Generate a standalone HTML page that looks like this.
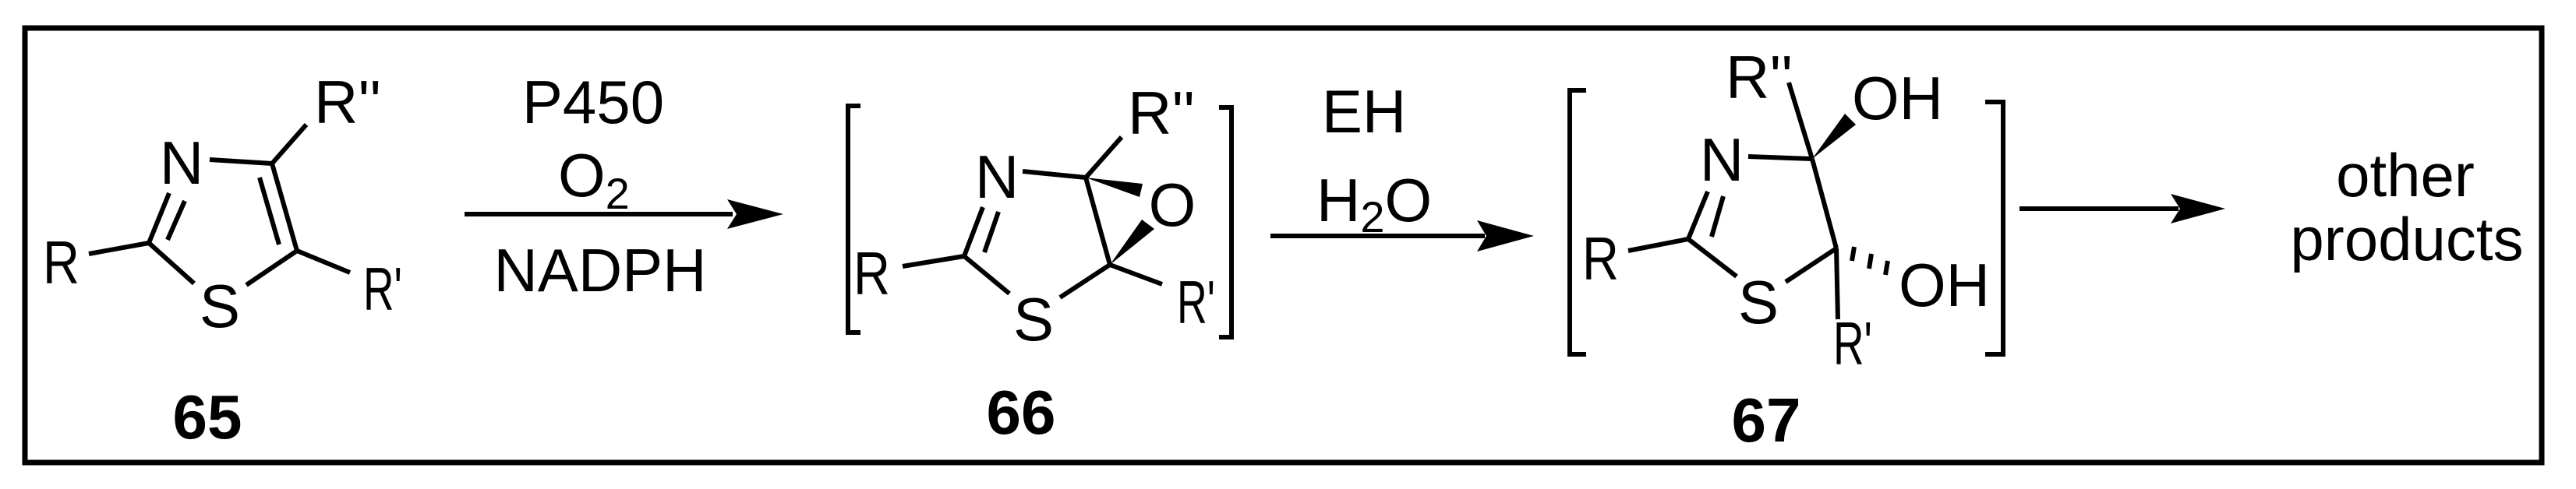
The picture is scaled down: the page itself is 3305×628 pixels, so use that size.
<!DOCTYPE html>
<html><head><meta charset="utf-8"><style>
html,body{margin:0;padding:0;background:#fff;}
svg{display:block;}
text{font-family:"Liberation Sans",Arial,sans-serif;fill:#000;}
</style></head><body>
<svg width="3305" height="628" viewBox="0 0 3305 628" xmlns="http://www.w3.org/2000/svg">
<rect x="0" y="0" width="3305" height="628" fill="#fff"/>
<rect x="32" y="36" width="3229" height="558" fill="none" stroke="#000" stroke-width="7"/>
<g stroke="#000" stroke-width="6" fill="none" stroke-linecap="butt">
<!-- 65 -->
<line x1="114" y1="326" x2="191" y2="312"/>
<line x1="191" y1="312" x2="217" y2="248"/>
<line x1="215" y1="308" x2="237" y2="258"/>
<line x1="269" y1="205" x2="349" y2="210"/>
<line x1="349" y1="210" x2="393" y2="160"/>
<line x1="349" y1="210" x2="381" y2="322"/>
<line x1="333" y1="228" x2="358" y2="314"/>
<line x1="381" y1="322" x2="449" y2="350"/>
<line x1="381" y1="322" x2="316" y2="366"/>
<line x1="191" y1="312" x2="249" y2="364"/>
<!-- 66 -->
<line x1="1158" y1="342" x2="1237" y2="329"/>
<line x1="1237" y1="329" x2="1261" y2="266"/>
<line x1="1263" y1="324" x2="1281" y2="272"/>
<line x1="1312" y1="220" x2="1393" y2="228"/>
<line x1="1393" y1="228" x2="1439" y2="176"/>
<line x1="1393" y1="228" x2="1424" y2="340"/>
<line x1="1424" y1="340" x2="1491" y2="365"/>
<line x1="1424" y1="340" x2="1360" y2="382"/>
<line x1="1237" y1="329" x2="1295" y2="377"/>
<!-- 67 -->
<line x1="2089" y1="322" x2="2166" y2="307"/>
<line x1="2166" y1="307" x2="2191" y2="246"/>
<line x1="2196" y1="304" x2="2211" y2="252"/>
<line x1="2243" y1="201" x2="2325" y2="204"/>
<line x1="2325" y1="204" x2="2295" y2="106"/>
<line x1="2325" y1="204" x2="2356" y2="319"/>
<line x1="2356" y1="319" x2="2291" y2="362"/>
<line x1="2166" y1="307" x2="2228" y2="355"/>
<line x1="2356" y1="319" x2="2358" y2="410"/>
<line x1="2379" y1="317" x2="2376" y2="335"/>
<line x1="2401" y1="326" x2="2398" y2="345"/>
<line x1="2422" y1="335" x2="2419" y2="353"/>
<!-- brackets -->
<polyline points="1104,136 1088,136 1088,427 1104,427"/>
<polyline points="1564,138 1580,138 1580,433 1564,433"/>
<polyline points="2035,116 2014,116 2014,455 2035,455"/>
<polyline points="2547,131 2570,131 2570,455 2547,455"/>
<!-- arrows -->
<line x1="596" y1="275" x2="940" y2="275"/>
<line x1="1630" y1="303" x2="1905" y2="303"/>
<line x1="2591" y1="268" x2="2795" y2="268"/>
</g>
<g fill="#000">
<polygon points="933,256 1005,275 933,294 945,275"/>
<polygon points="1895,283 1968,303 1895,323 1907,303"/>
<polygon points="2785,249 2855,268 2785,287 2797,268"/>
<polygon points="1393,228 1466,236 1462,253"/>
<polygon points="1424,340 1465,282 1481,294"/>
<polygon points="2325,204 2367,146 2381,160"/>
</g>
<g font-size="78">
<!-- 65 -->
<text x="233" y="236" text-anchor="middle">N</text>
<text x="403" y="158">R''</text>
<text x="55" y="364" textLength="47" lengthAdjust="spacingAndGlyphs">R</text>
<text x="466" y="398" textLength="50" lengthAdjust="spacingAndGlyphs">R'</text>
<text x="282" y="420" text-anchor="middle">S</text>
<text x="761" y="158" text-anchor="middle">P450</text>
<text x="716" y="252">O<tspan font-size="56" dy="16">2</tspan></text>
<text x="770" y="374" text-anchor="middle">NADPH</text>
<!-- 66 -->
<text x="1279" y="254" text-anchor="middle">N</text>
<text x="1447" y="172">R''</text>
<text x="1095" y="378" textLength="47" lengthAdjust="spacingAndGlyphs">R</text>
<text x="1510" y="415" textLength="49" lengthAdjust="spacingAndGlyphs">R'</text>
<text x="1326" y="437" text-anchor="middle">S</text>
<text x="1504" y="290" text-anchor="middle">O</text>
<text x="1750" y="170" text-anchor="middle">EH</text>
<text x="1689" y="284">H<tspan font-size="56" dy="14">2</tspan><tspan dy="-14">O</tspan></text>
<!-- 67 -->
<text x="2209" y="232" text-anchor="middle">N</text>
<text x="2214" y="126">R''</text>
<text x="2030" y="359" textLength="47" lengthAdjust="spacingAndGlyphs">R</text>
<text x="2352" y="468" textLength="50" lengthAdjust="spacingAndGlyphs">R'</text>
<text x="2256" y="415" text-anchor="middle">S</text>
<text x="2376" y="153">OH</text>
<text x="2436" y="393">OH</text>
<text x="3086" y="252" text-anchor="middle">other</text>
<text x="3088" y="334" text-anchor="middle">products</text>
</g>
<g font-size="80" font-weight="bold">
<text x="266" y="563" text-anchor="middle">65</text>
<text x="1310" y="557" text-anchor="middle">66</text>
<text x="2266" y="567" text-anchor="middle">67</text>
</g>
</svg>
</body></html>
